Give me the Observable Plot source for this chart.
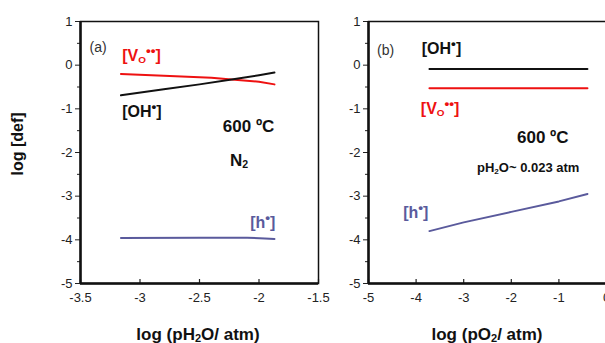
<!DOCTYPE html>
<html>
<head>
<meta charset="utf-8">
<script src="https://cdn.jsdelivr.net/npm/d3@7"></script>
<script src="https://cdn.jsdelivr.net/npm/@observablehq/plot@0.6"></script>
<style>
  html, body { margin: 0; padding: 0; background: #fff; }
  #wrap { position: relative; width: 605px; height: 343px; overflow: hidden; font-family: "Liberation Sans", Arial, sans-serif; }
  .panel { position: absolute; top: 0; }
  .panel svg { max-width: none !important; display: block; }
  .ann { position: absolute; white-space: nowrap; transform: translate(0, -50%); line-height: 1; }
  .ann sub { font-size: 0.62em; vertical-align: -0.25em; line-height: 0; }
  .ann sup { font-size: 0.85em; vertical-align: 0.45em; line-height: 0; }
  .title { position: absolute; font-weight: bold; white-space: nowrap; color: #111; line-height: 1; }
  .title sub { font-size: 0.65em; vertical-align: -0.25em; line-height: 0; }
</style>
</head>
<body>
<div id="wrap"></div>
<script>
// ---- Panel (a): vs log pH2O ----
const aVoX = [-3.16, -2.8, -2.4, -2.23, -2.0, -1.87];
const aVoY = [-0.20, -0.24, -0.29, -0.33, -0.38, -0.44];
const aOHX = [-3.16, -2.8, -2.5, -2.23, -2.0, -1.87];
const aOHY = [-0.69, -0.55, -0.44, -0.33, -0.23, -0.17];
const aHX  = [-3.16, -2.5, -2.1, -1.95, -1.87];
const aHY  = [-3.96, -3.95, -3.95, -3.97, -3.98];

// ---- Panel (b): vs log pO2 ----
const bOHX = [-3.72, -0.4];
const bOHY = [-0.09, -0.09];
const bVoX = [-3.72, -0.4];
const bVoY = [-0.53, -0.53];
const bHX  = [-3.72, -3.0, -2.0, -1.0, -0.4];
const bHY  = [-3.80, -3.60, -3.36, -3.12, -2.95];

const yTicks = [-5, -4, -3, -2, -1, 0, 1];
const yMinor = [-4.5, -3.5, -2.5, -1.5, -0.5, 0.5];
const aXTicks = [-3.5, -3, -2.5, -2, -1.5];
const bXTicks = [-5, -4, -3, -2, -1, 0];

const colors = { OH: "#111111", Vo: "#ee1111", h: "#5a5a9c" };

const VO = "[V<sub>O</sub><sup>••</sup>]";
const OH = "[OH<sup>•</sup>]";
const HH = "[h<sup>•</sup>]";

const aLabels = [
  { html: "(a)", x: -3.42, y: 0.40, color: "#333", size: 14, bold: false },
  { html: VO, x: -3.145, y: 0.20, color: colors.Vo, size: 16, bold: true },
  { html: OH, x: -3.145, y: -1.08, color: colors.OH, size: 16, bold: true },
  { html: "600 ºC", x: -2.30, y: -1.40, color: "#111", size: 17, bold: true },
  { html: "N<sub>2</sub>", x: -2.24, y: -2.18, color: "#111", size: 17, bold: true },
  { html: HH, x: -2.07, y: -3.62, color: colors.h, size: 16, bold: true }
];
const bLabels = [
  { html: "(b)", x: -4.81, y: 0.34, color: "#333", size: 14, bold: false },
  { html: OH, x: -3.87, y: 0.36, color: colors.OH, size: 16, bold: true },
  { html: VO, x: -3.89, y: -1.02, color: colors.Vo, size: 16, bold: true },
  { html: "600 ºC", x: -1.87, y: -1.65, color: "#111", size: 17, bold: true },
  { html: "pH<sub>2</sub>O~ 0.023 atm", x: -2.71, y: -2.34, color: "#111", size: 13, bold: true },
  { html: HH, x: -4.26, y: -3.39, color: colors.h, size: 16, bold: true }
];

const zip = (xs, ys) => xs.map((x, i) => ({ x, y: ys[i] }));
const fmt = d => String(d);

function panel(opts) {
  const { width, marginLeft, marginRight, xDomain, xTicks, series } = opts;
  const innerH = 343 - 21 - 60;
  return Plot.plot({
    width, height: 343,
    marginLeft, marginRight, marginTop: 21, marginBottom: 60,
    x: { domain: xDomain },
    y: { domain: [-5, 1] },
    style: { fontFamily: "'Liberation Sans', Arial, sans-serif", fontSize: "13px", color: "#222", background: "transparent", overflow: "visible", maxWidth: "none" },
    marks: [
      ...series.map(s => Plot.line(zip(s.x, s.y), { x: "x", y: "y", stroke: s.color, strokeWidth: 2 })),
      Plot.axisY({ ticks: yTicks, tickSize: 5, tickPadding: 3, tickFormat: fmt, label: null, fontSize: 13, stroke: "#222" }),
      Plot.axisY({ ticks: yMinor, tickSize: 3, tickFormat: () => "", label: null, stroke: "#222" }),
      Plot.axisX({ ticks: xTicks, tickSize: 0, tickPadding: 9, tickFormat: fmt, label: null, fontSize: 13 }),
      Plot.tickX(xTicks, { stroke: "#222", strokeWidth: 1.2, insetTop: innerH - 4 }),
      Plot.frame({ stroke: "#111", strokeWidth: 1.5 }),
      Plot.ruleX([xDomain[0]], { stroke: "#111", strokeWidth: 2.5 }),
      Plot.ruleY([-5], { stroke: "#111", strokeWidth: 2.5 })
    ]
  });
}

const wrap = document.getElementById("wrap");

function place(plot, left, width, labels) {
  const div = document.createElement("div");
  div.className = "panel";
  div.style.left = left + "px";
  div.style.width = width + "px";
  plot.style.maxWidth = "none";
  div.appendChild(plot);
  wrap.appendChild(div);
  const sx = plot.scale("x"), sy = plot.scale("y");
  for (const l of labels) {
    const e = document.createElement("div");
    e.className = "ann";
    e.innerHTML = l.html;
    e.style.left = (left + sx.apply(l.x)) + "px";
    e.style.top = sy.apply(l.y) + "px";
    e.style.color = l.color;
    e.style.fontSize = l.size + "px";
    e.style.fontWeight = l.bold ? "bold" : "normal";
    wrap.appendChild(e);
  }
}

const plotA = panel({
  width: 330, marginLeft: 80, marginRight: 12,
  xDomain: [-3.5, -1.5], xTicks: aXTicks,
  series: [
    { x: aVoX, y: aVoY, color: colors.Vo },
    { x: aOHX, y: aOHY, color: colors.OH },
    { x: aHX, y: aHY, color: colors.h }
  ]
});
const plotB = panel({
  width: 300, marginLeft: 38, marginRight: 24,
  xDomain: [-5, 0], xTicks: bXTicks,
  series: [
    { x: bOHX, y: bOHY, color: colors.OH },
    { x: bVoX, y: bVoY, color: colors.Vo },
    { x: bHX, y: bHY, color: colors.h }
  ]
});
place(plotA, 0, 330, aLabels);
place(plotB, 330, 300, bLabels);

// Axis titles
function title(html, cx, cy, size, rotate) {
  const e = document.createElement("div");
  e.className = "title";
  e.innerHTML = html;
  e.style.fontSize = size + "px";
  e.style.left = cx + "px";
  e.style.top = cy + "px";
  e.style.transform = "translate(-50%, -50%)" + (rotate ? " rotate(-90deg)" : "");
  wrap.appendChild(e);
}
title("log [def]", 18, 144, 16, true);
title("log (pH<sub>2</sub>O/ atm)", 198, 334, 17, false);
title("log (pO<sub>2</sub>/ atm)", 487, 334, 17, false);
</script>
</body>
</html>
